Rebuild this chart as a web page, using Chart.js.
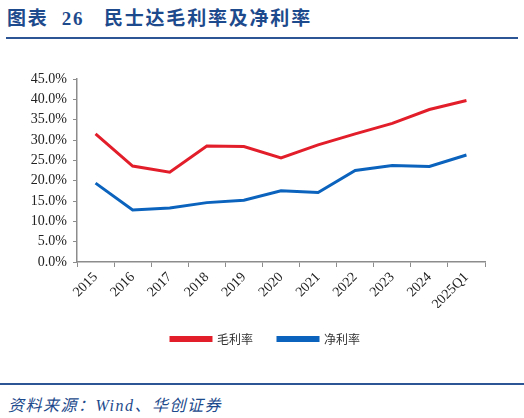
<!DOCTYPE html>
<html>
<head>
<meta charset="utf-8">
<script src="https://cdn.jsdelivr.net/npm/chart.js@4"></script>
<style>
  body { margin: 0; background: #fff; width: 524px; height: 418px; overflow: hidden; position: relative; }
  #title { position: absolute; left: 7px; top: 3px; font: bold 19px "Liberation Serif", "Noto Sans CJK SC", serif; color: #1d4a8c; letter-spacing: 1.8px; white-space: pre; }
  #rule1 { position: absolute; left: 6px; top: 37px; width: 512px; height: 2px; background: #2c5596; }
  #rule2 { position: absolute; left: 0; top: 383px; width: 524px; height: 2px; background: #2c5596; }
  #source { position: absolute; left: 8px; top: 392px; font: italic 16px "Liberation Serif", "Noto Sans CJK SC", serif; color: #1d4a8c; letter-spacing: 1.5px; }
  #wrap { position: absolute; left: 0; top: 40px; width: 524px; height: 325px; }
</style>
</head>
<body>
<div id="title">图表  26   民士达毛利率及净利率</div>
<div id="rule1"></div>
<div id="wrap"><canvas id="chart"></canvas></div>
<div id="rule2"></div>
<div id="source">资料来源：Wind、华创证券</div>
<script>
const years = ["2015", "2016", "2017", "2018", "2019", "2020", "2021", "2022", "2023", "2024", "2025Q1"]
const grossMargin = [31.5, 23.6, 22.1, 28.5, 28.4, 25.6, 28.8, 31.5, 34.1, 37.5, 39.7]
const netMargin = [19.4, 12.8, 13.3, 14.6, 15.2, 17.5, 17.1, 22.5, 23.7, 23.5, 26.3]

const red = "#e31e2b"
const blue = "#0b63bd"
const axisColor = "#8c8c8c"
const tickFont = { family: "'Liberation Serif', serif", size: 14 }

// legend sits centred on the whole page, not on the padded box
const legendShift = {
   id: "legendShift",
   afterLayout: (chart) => {
      chart.legend.left += 23
      chart.legend.right += 23
   }
}

new Chart(document.getElementById("chart"), {
   type: "line",
   data: {
      labels: years,
      datasets: [{
         label: "毛利率",
         data: grossMargin,
         borderColor: red,
         backgroundColor: red,
         borderWidth: 3,
         pointRadius: 0,
         tension: 0,
      }, {
         label: "净利率",
         data: netMargin,
         borderColor: blue,
         backgroundColor: blue,
         borderWidth: 3,
         pointRadius: 0,
         tension: 0,
      }]
   },
   plugins: [legendShift],
   options: {
      responsive: true,
      maintainAspectRatio: false,
      animation: false,
      layout: { padding: { top: 39, right: 39, left: 0, bottom: 10 } },
      plugins: {
         tooltip: { enabled: false },
         legend: {
            position: "bottom",
            labels: {
               boxWidth: 40,
               boxHeight: 3,
               padding: 25,
               color: "#333",
               font: { family: "'Noto Sans CJK SC', sans-serif", size: 12 },
            }
         }
      },
      scales: {
         x: {
            offset: true,
            afterFit: (scale) => { scale.height = 46 },
            grid: {
               offset: true,
               drawOnChartArea: false,
               drawTicks: true,
               tickLength: 5,
               color: axisColor,
            },
            border: { color: axisColor, width: 1.5 },
            ticks: {
               color: "#222",
               font: tickFont,
               minRotation: 45,
               maxRotation: 45,
               padding: 2,
            }
         },
         y: {
            min: 0,
            max: 45,
            afterFit: (scale) => { scale.width = 77 },
            grid: {
               drawOnChartArea: false,
               drawTicks: true,
               tickLength: 4,
               color: axisColor,
            },
            border: { color: axisColor, width: 1.5 },
            ticks: {
               stepSize: 5,
               color: "#222",
               font: tickFont,
               padding: 6,
               callback: (v) => v.toFixed(1) + "%",
            }
         }
      }
   }
})
</script>
</body>
</html>
